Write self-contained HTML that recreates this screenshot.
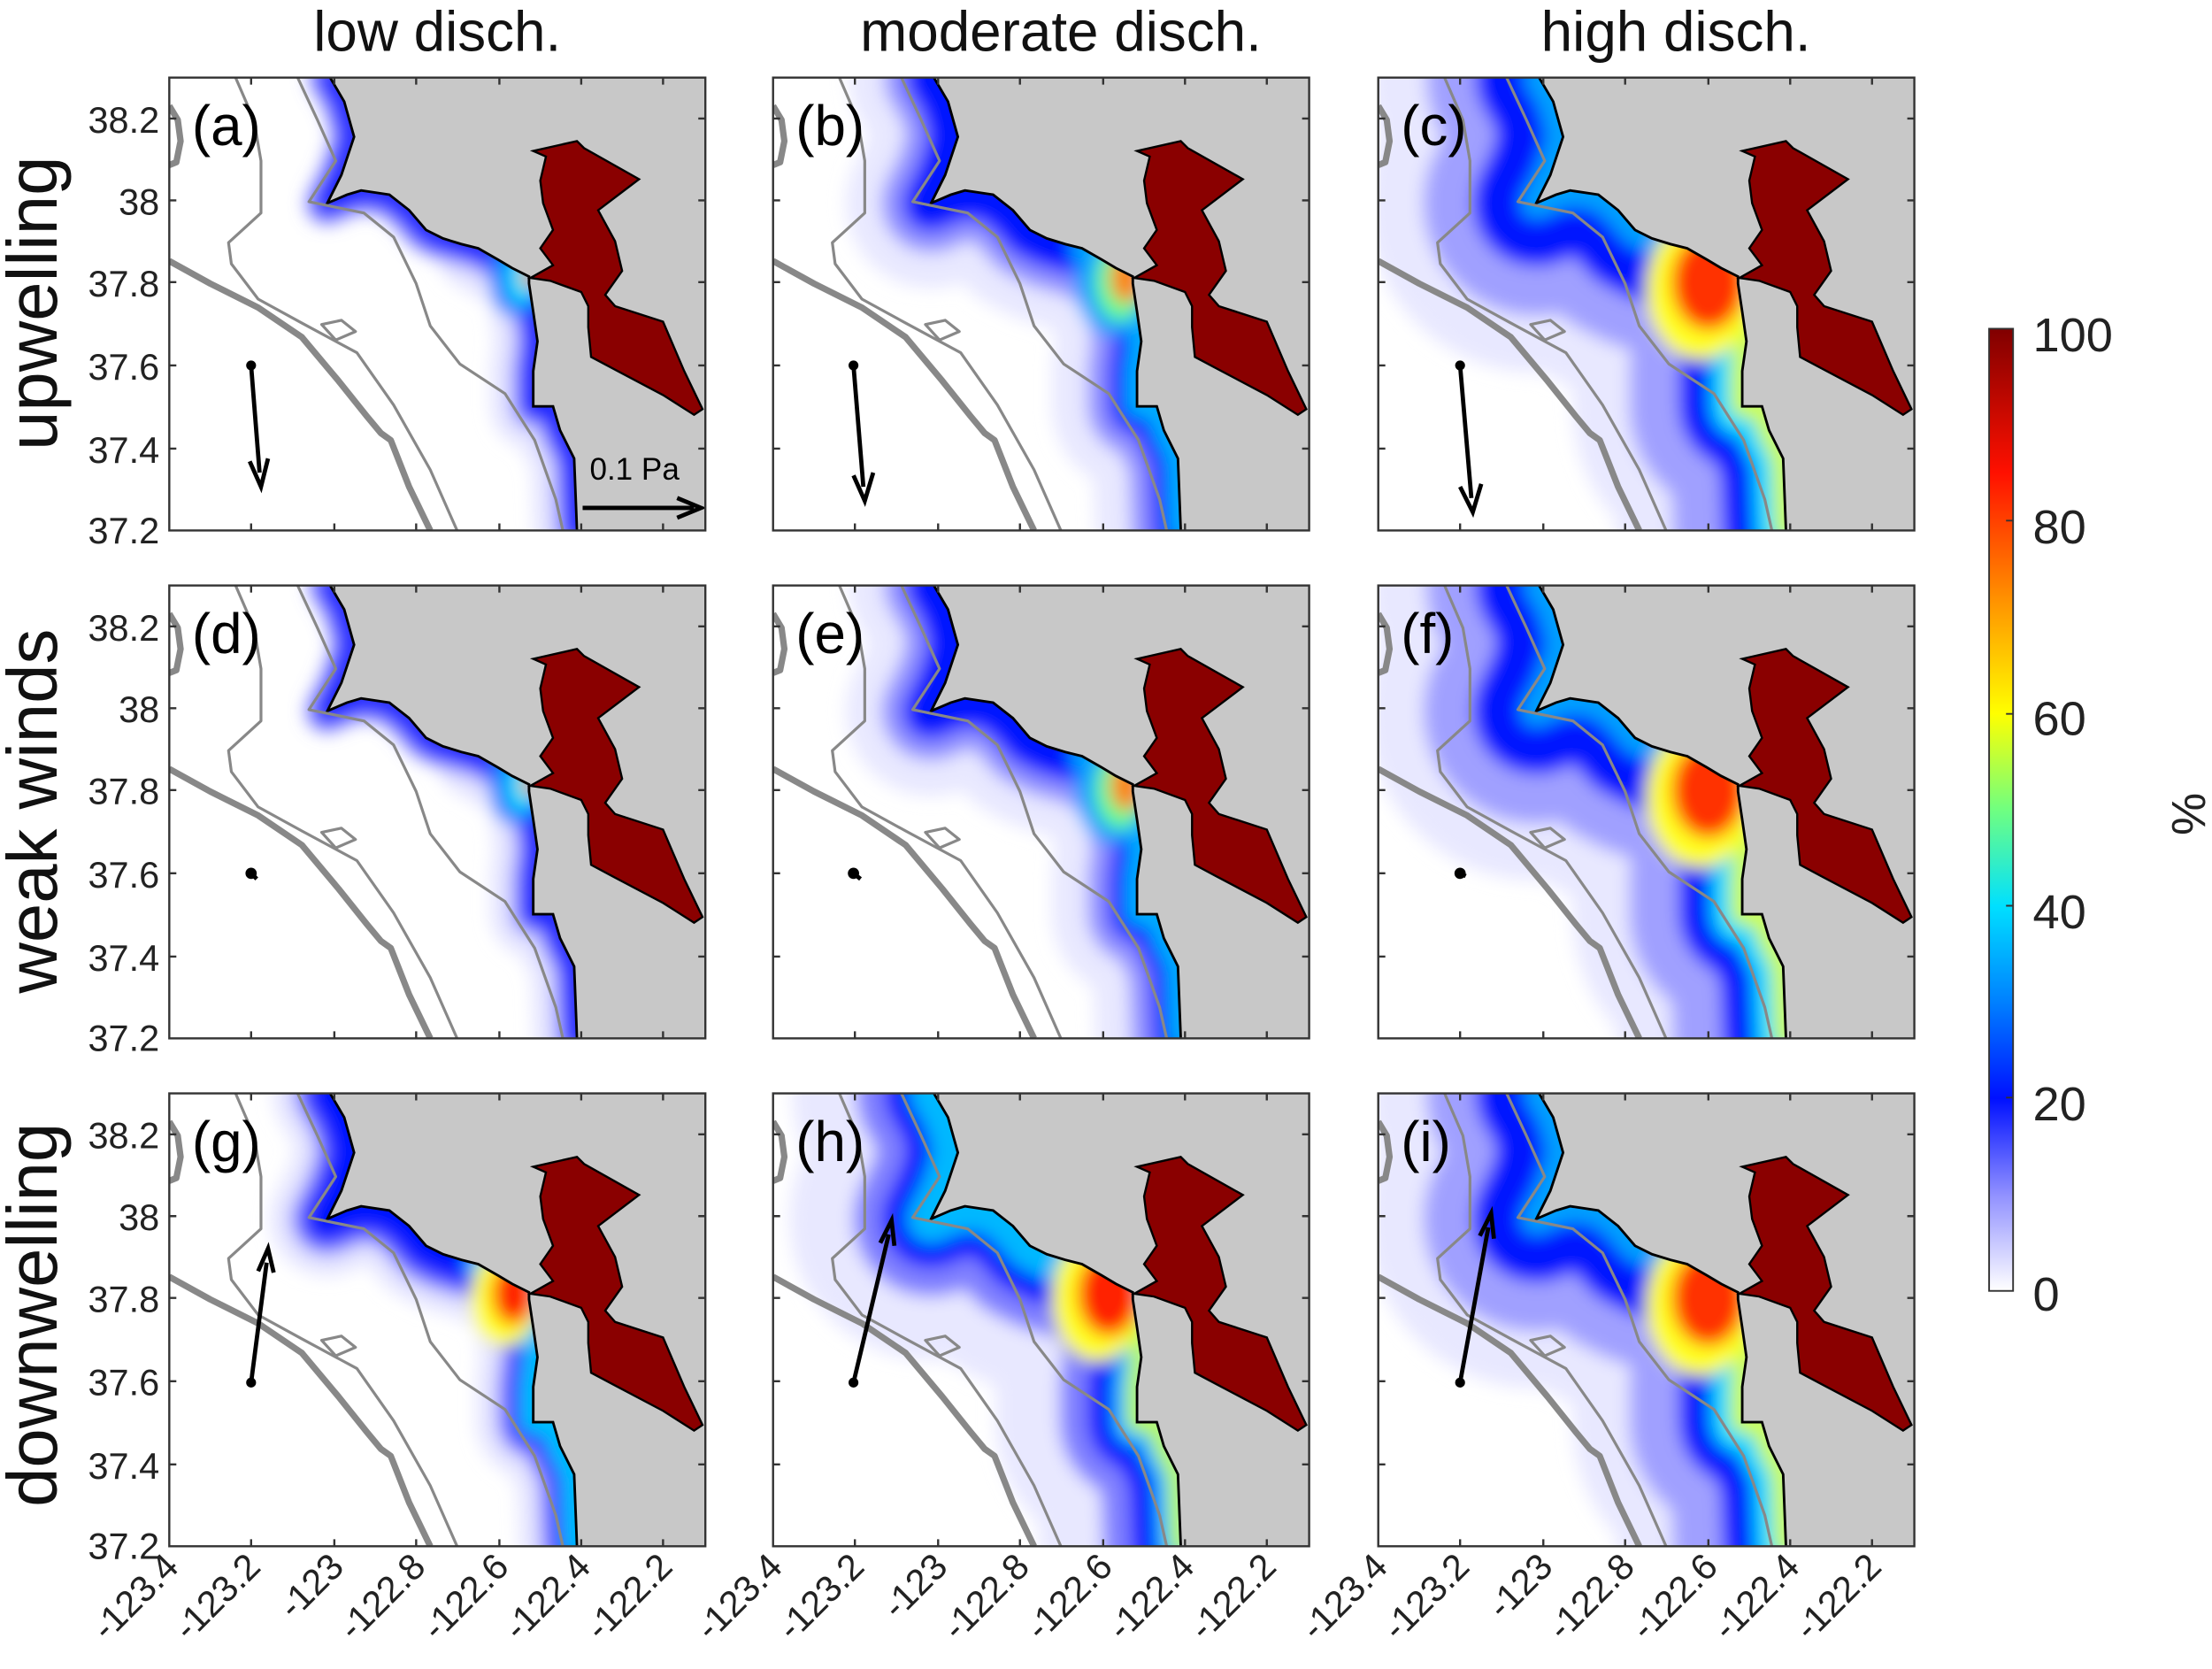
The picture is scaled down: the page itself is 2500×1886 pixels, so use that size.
<!DOCTYPE html>
<html><head><meta charset="utf-8"><style>html,body{margin:0;padding:0;background:#fff}svg{display:block}</style></head>
<body>
<svg xmlns="http://www.w3.org/2000/svg" xmlns:xlink="http://www.w3.org/1999/xlink" width="2500" height="1886" viewBox="0 0 1568 1183" preserveAspectRatio="none" font-family="Liberation Sans, sans-serif">
<defs>
<clipPath id="pc"><rect x="0" y="0" width="380" height="321"/></clipPath>
<filter id="bl" filterUnits="userSpaceOnUse" x="-200" y="-200" width="800" height="800"><feGaussianBlur stdDeviation="6"/></filter>
<linearGradient id="cb" x1="0" y1="1" x2="0" y2="0">
<stop offset="0" stop-color="#ffffff"/><stop offset="0.1" stop-color="#9090ff"/><stop offset="0.2" stop-color="#0010ff"/><stop offset="0.3" stop-color="#0080ff"/><stop offset="0.4" stop-color="#00e0ff"/><stop offset="0.5" stop-color="#70ff80"/><stop offset="0.6" stop-color="#ffff00"/><stop offset="0.72" stop-color="#ff9000"/><stop offset="0.85" stop-color="#ff1000"/><stop offset="1" stop-color="#800000"/>
</linearGradient>
<path id="coast" d="M114,0 L124,17 L131,42 L122,69 L112,89 L126,83 L136,80 L156,83 L170,94 L182,108 L194,114 L207,118 L219,121 L233,129 L243,135 L255,141 L255,146 L258,166 L261,187 L258,208 L258,233 L272,233 L277,250 L287,270 L289,321"/>
<path id="coastN" d="M114,0 L124,17 L131,42 L122,69 L112,89 L126,83 L136,80 L156,83 L170,94 L182,108 L194,114 L207,118 L219,121 L233,129 L243,135 L255,141"/>
<path id="coastS" d="M219,121 L233,129 L243,135 L255,141 L255,146 L258,166 L261,187 L258,208 L258,233 L272,233 L277,250 L287,270 L289,321"/>
<path id="land" d="M114,0 L124,17 L131,42 L122,69 L112,89 L126,83 L136,80 L156,83 L170,94 L182,108 L194,114 L207,118 L219,121 L233,129 L243,135 L255,141 L255,146 L258,166 L261,187 L258,208 L258,233 L272,233 L277,250 L287,270 L289,321 L380,321 L380,0 Z"/>
<path id="bay" d="M258,52 L289,45 L294,50 L333,72 L304,94 L316,116 L321,137 L309,154 L316,162 L350,173 L365,208 L378,235 L372,239 L350,225 L314,206 L299,198 L297,177 L297,162 L292,152 L270,144 L256,142 L272,133 L263,121 L272,108 L265,89 L263,73 L267,56 Z"/>
<g id="iso" fill="none" stroke="#888" stroke-linejoin="round">
<path stroke-width="2" d="M91,0 L105,30 L118,59 L99,88 L138,96 L159,113 L175,146 L185,176 L206,203 L238,224 L259,257 L274,299 L279,321"/>
<path stroke-width="2" d="M47,0 L60,30 L65,59 L65,96 L42,117 L44,132 L63,157 L94,174 L133,195 L159,232 L185,278 L204,321"/>
<path stroke-width="4.5" d="M0,130 L29,146 L63,163 L94,184 L120,215 L140,240 L150,252 L157,257 L170,290 L185,321"/>
<path stroke-width="4.5" d="M0,20 L6,30 L8,45 L5,60 L0,62"/>
<path stroke-width="2" d="M108,175 L122,172 L132,180 L118,186 Z"/>
</g>
<g id="plA" filter="url(#bl)" fill="none" stroke-linejoin="round" stroke-linecap="round">
<use xlink:href="#coastS" stroke="#e4e4ff" stroke-width="60"/>
<use xlink:href="#coast" stroke="#8080ff" stroke-width="30"/>
<use xlink:href="#coast" stroke="#0018ff" stroke-width="16"/>
<ellipse cx="245" cy="142" rx="18" ry="28" fill="#0080ff" stroke="none"/>
<ellipse cx="250" cy="142" rx="10" ry="18" fill="#00e0ff" stroke="none"/>
<ellipse cx="255" cy="141" rx="5" ry="8" fill="#ffa000" stroke="none"/>
</g>
<g id="plB" filter="url(#bl)" fill="none" stroke-linejoin="round" stroke-linecap="round">
<use xlink:href="#coast" stroke="#e8e8ff" stroke-width="120"/>
<use xlink:href="#coast" stroke="#9090ff" stroke-width="70"/>
<use xlink:href="#coast" stroke="#0018ff" stroke-width="40"/>
<use xlink:href="#coastS" stroke="#00b0ff" stroke-width="16"/>
<ellipse cx="240" cy="145" rx="26" ry="38" fill="#00a0ff" stroke="none"/>
<ellipse cx="246" cy="145" rx="18" ry="28" fill="#60ff90" stroke="none"/>
<ellipse cx="250" cy="142" rx="11" ry="18" fill="#ff8000" stroke="none"/>
</g>
<g id="plG" filter="url(#bl)" fill="none" stroke-linejoin="round" stroke-linecap="round">
<use xlink:href="#coast" stroke="#e4e4ff" stroke-width="80"/>
<use xlink:href="#coast" stroke="#7070ff" stroke-width="50"/>
<use xlink:href="#coast" stroke="#0018ff" stroke-width="32"/>
<use xlink:href="#coastS" stroke="#00c0ff" stroke-width="18"/>
<ellipse cx="238" cy="145" rx="24" ry="34" fill="#ffff20" stroke="none"/>
<ellipse cx="244" cy="142" rx="15" ry="22" fill="#ff2000" stroke="none"/>
</g>
<g id="plC" filter="url(#bl)" fill="none" stroke-linejoin="round" stroke-linecap="round">
<use xlink:href="#coast" stroke="#e8e8ff" stroke-width="240"/>
<use xlink:href="#coast" stroke="#a0a0ff" stroke-width="160"/>
<use xlink:href="#coast" stroke="#0018ff" stroke-width="90"/>
<use xlink:href="#coastS" stroke="#00d8ff" stroke-width="44"/>
<use xlink:href="#coastN" stroke="#00a0ff" stroke-width="22"/>
<use xlink:href="#coastS" stroke="#d0ff40" stroke-width="16"/>
<ellipse cx="228" cy="150" rx="38" ry="50" fill="#ffff20" stroke="none"/>
<ellipse cx="234" cy="145" rx="26" ry="34" fill="#ff3000" stroke="none"/>
</g>
<g id="plD" filter="url(#bl)" fill="none" stroke-linejoin="round" stroke-linecap="round">
<use xlink:href="#coast" stroke="#e8e8ff" stroke-width="200"/>
<use xlink:href="#coast" stroke="#8080ff" stroke-width="110"/>
<use xlink:href="#coast" stroke="#0018ff" stroke-width="70"/>
<use xlink:href="#coast" stroke="#00b8ff" stroke-width="34"/>
<use xlink:href="#coastS" stroke="#c0ff40" stroke-width="14"/>
<ellipse cx="230" cy="145" rx="32" ry="45" fill="#ffff20" stroke="none"/>
<ellipse cx="238" cy="142" rx="22" ry="30" fill="#ff2000" stroke="none"/>
</g>
<g id="base">
<use xlink:href="#land" fill="#c8c8c8"/>
<use xlink:href="#bay" fill="#8a0000" stroke="#000" stroke-width="1.5"/>
<use xlink:href="#coast" fill="none" stroke="#000" stroke-width="1.8"/>
<use xlink:href="#iso"/>
</g>
<g id="frame" fill="none" stroke="#333" stroke-width="1.5">
<rect x="0" y="0" width="380" height="321"/>
<path d="M58,321 v-5 M117,321 v-5 M175,321 v-5 M234,321 v-5 M292,321 v-5 M350,321 v-5 M58,0 v5 M117,0 v5 M175,0 v5 M234,0 v5 M292,0 v5 M350,0 v5 M0,29 h5 M0,87 h5 M0,145 h5 M0,204 h5 M0,263 h5 M380,29 h-5 M380,87 h-5 M380,145 h-5 M380,204 h-5 M380,263 h-5"/>
</g>
</defs>

<g font-size="40" text-anchor="middle" fill="#111">
<text x="310" y="36">low disch.</text>
<text x="752" y="36">moderate disch.</text>
<text x="1188" y="36">high disch.</text>
</g>
<g font-size="50" text-anchor="middle" fill="#111">
<text transform="translate(40,215) rotate(-90)">upwelling</text>
<text transform="translate(40,575) rotate(-90)">weak winds</text>
<text transform="translate(40,932) rotate(-90)">downwelling</text>
</g>

<g transform="translate(120,55)"><g clip-path="url(#pc)"><rect width="380" height="321" fill="#fff"/><use xlink:href="#plA"/><use xlink:href="#base"/>
<line x1="58" y1="204" x2="64" y2="280" stroke="#000" stroke-width="3"/><path d="M57,272 L65,290 L70,270" fill="none" stroke="#000" stroke-width="3"/><circle cx="58" cy="204" r="3.5"/>
<line x1="293" y1="305" x2="372" y2="305" stroke="#000" stroke-width="3"/><path d="M360,298 L377,305 L360,312" fill="none" stroke="#000" stroke-width="3"/>
<text x="298" y="285" font-size="22">0.1 Pa</text>
<text x="16" y="48" font-size="40">(a)</text></g><use xlink:href="#frame"/></g>

<g transform="translate(548,55)"><g clip-path="url(#pc)"><rect width="380" height="321" fill="#fff"/><use xlink:href="#plB"/><use xlink:href="#base"/>
<line x1="57" y1="204" x2="64" y2="290" stroke="#000" stroke-width="3"/><path d="M57,282 L65,300 L71,280" fill="none" stroke="#000" stroke-width="3"/><circle cx="57" cy="204" r="3.5"/>
<text x="16" y="48" font-size="40">(b)</text></g><use xlink:href="#frame"/></g>

<g transform="translate(977,55)"><g clip-path="url(#pc)"><rect width="380" height="321" fill="#fff"/><use xlink:href="#plC"/><use xlink:href="#base"/>
<line x1="58" y1="204" x2="66" y2="298" stroke="#000" stroke-width="3"/><path d="M58,290 L67,308 L73,288" fill="none" stroke="#000" stroke-width="3"/><circle cx="58" cy="204" r="3.5"/>
<text x="16" y="48" font-size="40">(c)</text></g><use xlink:href="#frame"/></g>

<g transform="translate(120,415)"><g clip-path="url(#pc)"><rect width="380" height="321" fill="#fff"/><use xlink:href="#plA"/><use xlink:href="#base"/>
<circle cx="58" cy="204" r="4"/><path d="M58,204 L62,208" stroke="#000" stroke-width="3"/>
<text x="16" y="48" font-size="40">(d)</text></g><use xlink:href="#frame"/></g>
<g transform="translate(548,415)"><g clip-path="url(#pc)"><rect width="380" height="321" fill="#fff"/><use xlink:href="#plB"/><use xlink:href="#base"/>
<circle cx="57" cy="204" r="4"/><path d="M57,204 L62,208" stroke="#000" stroke-width="3"/>
<text x="16" y="48" font-size="40">(e)</text></g><use xlink:href="#frame"/></g>
<g transform="translate(977,415)"><g clip-path="url(#pc)"><rect width="380" height="321" fill="#fff"/><use xlink:href="#plC"/><use xlink:href="#base"/>
<circle cx="58" cy="204" r="4"/><path d="M58,204 L62,206" stroke="#000" stroke-width="3"/>
<text x="16" y="48" font-size="40">(f)</text></g><use xlink:href="#frame"/></g>

<g transform="translate(120,775)"><g clip-path="url(#pc)"><rect width="380" height="321" fill="#fff"/><use xlink:href="#plG"/><use xlink:href="#base"/>
<line x1="58" y1="205" x2="69" y2="120" stroke="#000" stroke-width="3"/><path d="M63,126 L70,110 L74,127" fill="none" stroke="#000" stroke-width="3"/><circle cx="58" cy="205" r="3.5"/>
<text x="16" y="48" font-size="40">(g)</text></g><use xlink:href="#frame"/></g>
<g transform="translate(548,775)"><g clip-path="url(#pc)"><rect width="380" height="321" fill="#fff"/><use xlink:href="#plD"/><use xlink:href="#base"/>
<line x1="57" y1="205" x2="82" y2="100" stroke="#000" stroke-width="3"/><path d="M76,106 L84,90 L86,108" fill="none" stroke="#000" stroke-width="3"/><circle cx="57" cy="205" r="3.5"/>
<text x="16" y="48" font-size="40">(h)</text></g><use xlink:href="#frame"/></g>
<g transform="translate(977,775)"><g clip-path="url(#pc)"><rect width="380" height="321" fill="#fff"/><use xlink:href="#plC"/><use xlink:href="#base"/>
<line x1="58" y1="205" x2="78" y2="95" stroke="#000" stroke-width="3"/><path d="M72,101 L80,85 L82,103" fill="none" stroke="#000" stroke-width="3"/><circle cx="58" cy="205" r="3.5"/>
<text x="16" y="48" font-size="40">(i)</text></g><use xlink:href="#frame"/></g>

<g font-size="26" text-anchor="end" fill="#222">
<text x="113" y="94">38.2</text><text x="113" y="152">38</text><text x="113" y="210">37.8</text><text x="113" y="269">37.6</text><text x="113" y="328">37.4</text><text x="113" y="385">37.2</text>
<text x="113" y="454">38.2</text><text x="113" y="512">38</text><text x="113" y="570">37.8</text><text x="113" y="629">37.6</text><text x="113" y="688">37.4</text><text x="113" y="745">37.2</text>
<text x="113" y="814">38.2</text><text x="113" y="872">38</text><text x="113" y="930">37.8</text><text x="113" y="989">37.6</text><text x="113" y="1048">37.4</text><text x="113" y="1105">37.2</text>
</g>
<g font-size="26" text-anchor="end" fill="#222">
<text transform="translate(128,1112) rotate(-45)">-123.4</text><text transform="translate(186,1112) rotate(-45)">-123.2</text><text transform="translate(245,1112) rotate(-45)">-123</text><text transform="translate(303,1112) rotate(-45)">-122.8</text><text transform="translate(362,1112) rotate(-45)">-122.6</text><text transform="translate(420,1112) rotate(-45)">-122.4</text><text transform="translate(478,1112) rotate(-45)">-122.2</text>
<text transform="translate(556,1112) rotate(-45)">-123.4</text><text transform="translate(614,1112) rotate(-45)">-123.2</text><text transform="translate(673,1112) rotate(-45)">-123</text><text transform="translate(731,1112) rotate(-45)">-122.8</text><text transform="translate(790,1112) rotate(-45)">-122.6</text><text transform="translate(848,1112) rotate(-45)">-122.4</text><text transform="translate(906,1112) rotate(-45)">-122.2</text>
<text transform="translate(985,1112) rotate(-45)">-123.4</text><text transform="translate(1043,1112) rotate(-45)">-123.2</text><text transform="translate(1102,1112) rotate(-45)">-123</text><text transform="translate(1160,1112) rotate(-45)">-122.8</text><text transform="translate(1219,1112) rotate(-45)">-122.6</text><text transform="translate(1277,1112) rotate(-45)">-122.4</text><text transform="translate(1335,1112) rotate(-45)">-122.2</text>
</g>

<rect x="1410" y="233" width="17" height="682" fill="url(#cb)" stroke="#333" stroke-width="1.2"/>
<g stroke="#333" stroke-width="1.2"><path d="M1422,369 h5 M1422,506 h5 M1422,642 h5 M1422,778 h5"/></g>
<g font-size="34" fill="#222">
<text x="1441" y="249">100</text><text x="1441" y="385">80</text><text x="1441" y="521">60</text><text x="1441" y="658">40</text><text x="1441" y="794">20</text><text x="1441" y="929">0</text>
</g>
<text transform="translate(1563,577) rotate(-90)" font-size="34" text-anchor="middle" fill="#222">%</text>
</svg>
</body></html>
